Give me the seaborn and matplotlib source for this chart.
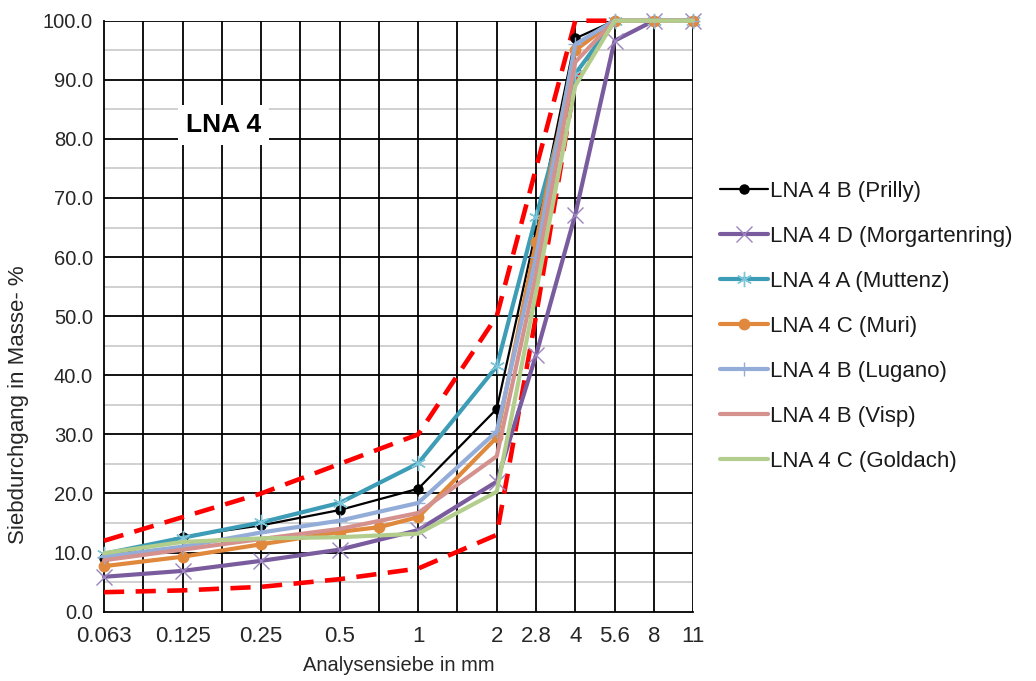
import numpy as np
import pandas as pd
import matplotlib
matplotlib.use("Agg")
import matplotlib.pyplot as plt
import seaborn as sns

# Sieve categories (equally spaced on the category axis); unlabeled in-between sieves
sieve_labels = ["0.063", "", "0.125", "", "0.25", "", "0.5", "", "1", "", "2", "2.8", "4", "5.6", "8", "11"]
N = np.nan

# Passing percentages per sieve category
prilly        = [9.1, N, 12.7, N, 14.6, N, 17.2, N, 20.8, N, 34.3, 64.5, 97.0, 100, 100, 100]
morgartenring = [5.9, N, 6.9, N, 8.6, N, 10.5, N, 13.8, N, 22.0, 43.4, 67.2, 96.6, 100, 100]
muttenz       = [9.8, N, 12.5, N, 15.1, N, 18.4, N, 25.1, N, 41.5, 66.8, 91.0, 100, 100, 100]
muri          = [7.7, N, 9.3, N, 11.4, N, 13.5, 14.3, 16.0, N, 29.5, 62.5, 95.0, 100, 100, 100]
lugano        = [9.3, N, 11.0, N, 13.4, N, 15.4, N, 18.4, N, 30.5, 60.0, 96.0, 100, 100, 100]
visp          = [8.7, N, 10.5, N, 12.3, N, 14.0, N, 16.7, N, 26.3, 57.0, 93.0, 100, 100, 100]
goldach       = [9.9, N, 11.8, N, 12.4, N, 12.6, N, 13.2, N, 20.3, 54.0, 89.0, 100, 100, 100]

# Grading envelope
upper_limit = [12, N, 16, N, 20, N, 25, N, 30, N, 50, N, 100, 100, N, N]
lower_limit = [3.3, N, 3.6, N, 4.2, N, 5.5, N, 7.3, N, 13, 50, 90, 100, N, N]

series_names = ["LNA 4 B (Prilly)", "LNA 4 D (Morgartenring)", "LNA 4 A (Muttenz)",
                "LNA 4 C (Muri)", "LNA 4 B (Lugano)", "LNA 4 B (Visp)", "LNA 4 C (Goldach)"]
series_values = [prilly, morgartenring, muttenz, muri, lugano, visp, goldach]

styles = {
    "LNA 4 B (Prilly)":        dict(color="#000000", lw=1.6, marker="o", ms=6.5, mfc="#000000", mec="#000000", mew=1),
    "LNA 4 D (Morgartenring)": dict(color="#7A5C9E", lw=3.0, marker="x", ms=11, mfc="none", mec="#9C86BE", mew=1.0),
    "LNA 4 A (Muttenz)":       dict(color="#3E9DB6", lw=3.0, marker=(6, 2, 0), ms=11, mfc="none", mec="#7FC6DA", mew=1.0),
    "LNA 4 C (Muri)":          dict(color="#E0883C", lw=3.0, marker="o", ms=7.5, mfc="#E0883C", mec="#E0883C", mew=1),
    "LNA 4 B (Lugano)":        dict(color="#93ADD8", lw=3.0, marker="+", ms=10, mfc="none", mec="#93ADD8", mew=1.0),
    "LNA 4 B (Visp)":          dict(color="#D4918E", lw=3.0, marker=None, ms=0, mfc="none", mec="none", mew=0),
    "LNA 4 C (Goldach)":       dict(color="#B3CE8C", lw=3.0, marker=None, ms=0, mfc="none", mec="none", mew=0),
}

positions = np.arange(len(sieve_labels))
records = []
for name, vals in zip(series_names, series_values):
    for p, v in zip(positions, vals):
        records.append((name, p, v))
df = pd.DataFrame(records, columns=["Probe", "pos", "value"]).dropna()

limits = pd.DataFrame({"pos": positions, "upper": upper_limit, "lower": lower_limit})

sns.set_style("white")
plt.rcParams["font.family"] = ["Liberation Sans", "DejaVu Sans"]

fig = plt.figure(figsize=(10.36, 6.81), dpi=100)
ax = fig.add_axes([0.1004, 0.1018, 0.669 - 0.1004, 0.9696 - 0.1018])

# Grid: black major lines every 10 %, light minor lines every 5 %, one vertical line per sieve
for y in np.arange(5, 100, 10):
    ax.axhline(y, color="#C8C8C8", lw=1.2, zorder=0)
for y in np.arange(10, 101, 10):
    ax.axhline(y, color="#000000", lw=1.3, zorder=0.5)
for x in positions[1:]:
    ax.axvline(x, color="#000000", lw=1.3, zorder=0.5)

# Envelope (red dashed)
for col in ["upper", "lower"]:
    sub = limits[["pos", col]].dropna()
    sns.lineplot(data=sub, x="pos", y=col, ax=ax, color="#FF0000", lw=3.3,
                 dashes=False, estimator=None, sort=False, zorder=1, clip_on=False,
                 linestyle=(0, (4.4, 2.5)), dash_capstyle="butt")

# Sample curves
handles = []
for i, name in enumerate(series_names):
    st = styles[name]
    sub = df[df["Probe"] == name]
    n_before = len(ax.lines)
    sns.lineplot(data=sub, x="pos", y="value", ax=ax, color=st["color"], lw=st["lw"],
                 marker=st["marker"], markersize=st["ms"], markerfacecolor=st["mfc"],
                 markeredgecolor=st["mec"], markeredgewidth=st["mew"],
                 estimator=None, sort=False, zorder=2 + i, clip_on=False, label=name)
    handles.append(ax.lines[n_before])

if ax.get_legend() is not None:
    ax.get_legend().remove()

ax.set_xlim(0, len(sieve_labels) - 1)
ax.set_ylim(0, 100)
ax.set_xticks(positions)
ax.set_xticklabels(sieve_labels)
ax.set_yticks(np.arange(0, 101, 10))
ax.set_yticklabels([f"{v:.1f}" for v in np.arange(0, 101, 10)])
ax.tick_params(axis="both", which="major", direction="out", length=6, width=1.3,
               color="#000000", labelcolor="#262626")
ax.tick_params(axis="x", labelsize=16, pad=4)
ax.tick_params(axis="y", labelsize=14.5, pad=2)

for side in ["top", "right"]:
    ax.spines[side].set_visible(False)
for side in ["left", "bottom"]:
    ax.spines[side].set_color("#000000")
    ax.spines[side].set_linewidth(1.3)
    ax.spines[side].set_zorder(0.6)

ax.set_xlabel("Analysensiebe in mm", fontsize=14.5, color="#262626", labelpad=7)
ax.set_ylabel("Siebdurchgang in Masse- %", fontsize=16, color="#262626")
ax.yaxis.set_label_coords(-0.128, 0.35)

ax.text(3.05, 82.3, "LNA 4", fontsize=19, fontweight="bold", color="#000000",
        ha="center", va="center", zorder=20,
        bbox=dict(boxstyle="square,pad=0.3", facecolor="white", edgecolor="none"))

fig.legend(handles, series_names, loc="upper left", bbox_to_anchor=(0.695, 0.734),
           frameon=False, fontsize=16, handlelength=2.15, handletextpad=0.12,
           labelspacing=1.08, borderpad=0, borderaxespad=0, labelcolor="#1A1A1A")

fig.savefig("out.png", dpi=100)
